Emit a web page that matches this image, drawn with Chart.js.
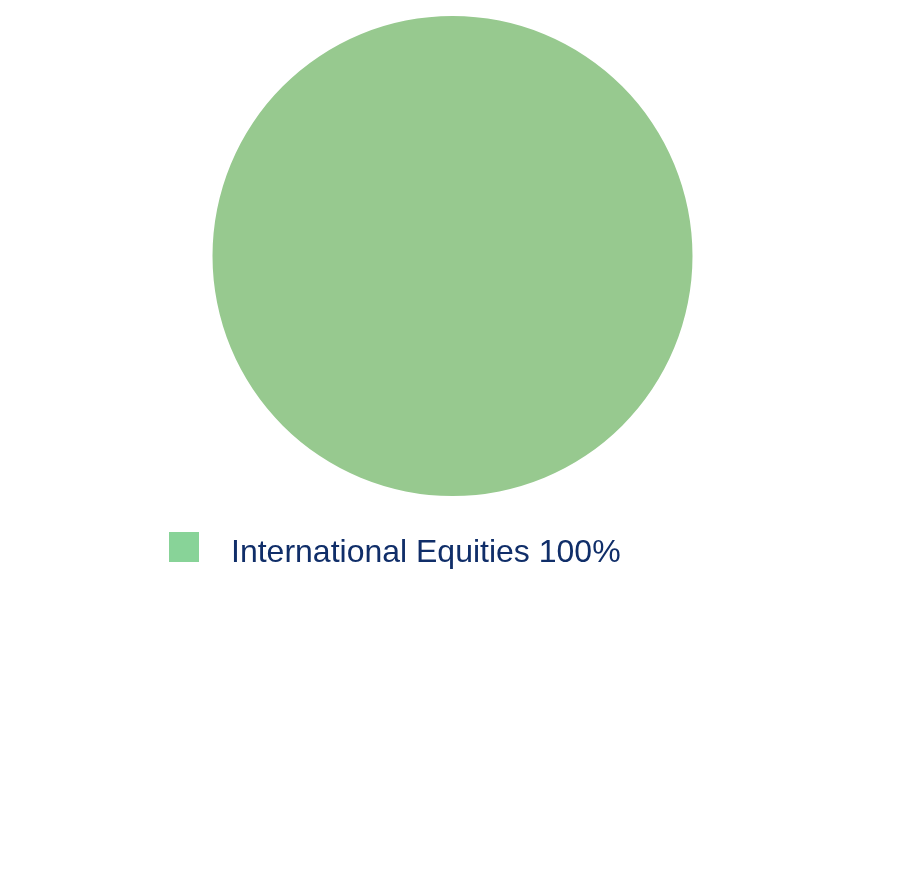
<!DOCTYPE html>
<html>
<head>
<meta charset="utf-8">
<script src="https://cdn.jsdelivr.net/npm/chart.js@4"></script>
<style>
  html, body { margin: 0; padding: 0; background: #fff; }
  #wrap { width: 901px; height: 879px; position: relative; }
</style>
</head>
<body>
<div id="wrap"><canvas id="pieChart"></canvas></div>
<script>
const categories = ['International Equities'];
const values = [100];
const sliceColors = ['#97c98f'];
const legendColors = ['#88d398'];

// draws the legend below the pie, the way the source lays it out
const legendPlugin = {
  id: 'sideLegend',
  afterDraw(chart) {
    const c = chart.ctx;
    c.save();
    c.font = '32px "Liberation Sans", Arial, sans-serif';
    c.textBaseline = 'alphabetic';
    chart.data.labels.forEach((label, i) => {
      const y = 532 + i * 46;
      c.fillStyle = legendColors[i];
      c.fillRect(169, y, 30, 30);
      c.fillStyle = '#102e69';
      c.fillText(label + ' ' + chart.data.datasets[0].data[i] + '%', 231, y + 30);
    });
    c.restore();
  }
};

new Chart(document.getElementById('pieChart').getContext('2d'), {
  type: 'pie',
  data: {
    labels: categories,
    datasets: [{
      data: values,
      backgroundColor: sliceColors,
      borderWidth: 0
    }]
  },
  options: {
    responsive: true,
    maintainAspectRatio: false,
    animation: false,
    layout: { padding: { top: 16, bottom: 383, left: 4 } },
    plugins: {
      legend: { display: false },
      tooltip: { enabled: false }
    }
  },
  plugins: [legendPlugin]
});
</script>
</body>
</html>
